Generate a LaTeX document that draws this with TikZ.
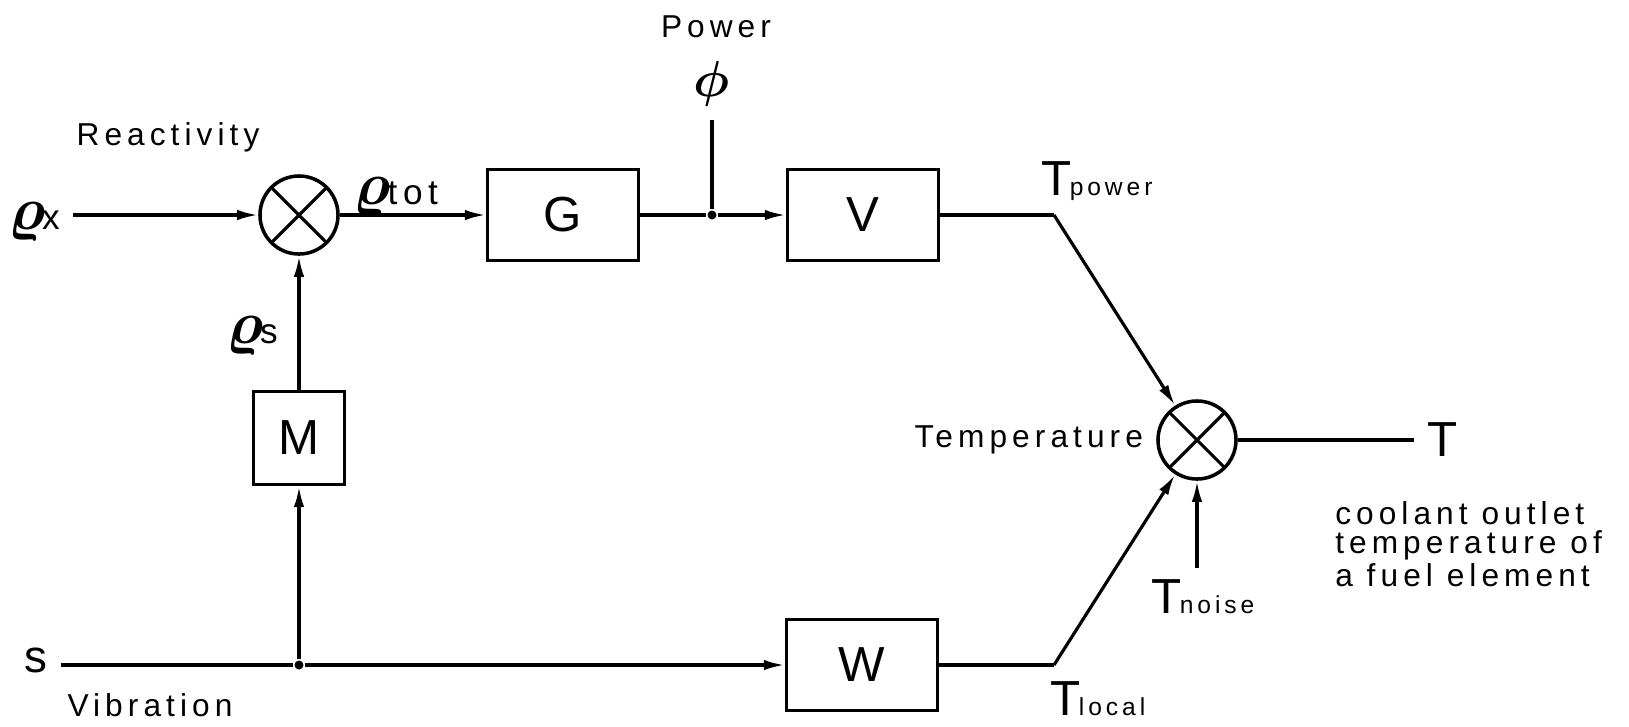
\documentclass[tikz,border=0pt]{standalone}
\usepackage{amsmath}
\usepackage{fontspec}
\setmainfont{Liberation Sans}[LetterSpace=16]
\usetikzlibrary{positioning,arrows.meta,calc}

% T with a small index, rho with an index
\newcommand{\Tsub}[1]{{\fontsize{14}{14}\selectfont T}\kern-0.5pt{\fontsize{7}{7}\selectfont #1}}
\newcommand{\rhosub}[1]{{\fontsize{16}{16}\selectfont$\boldsymbol{\varrho}$}\kern-1pt{\fontsize{10}{10}\selectfont #1}}

\begin{document}
\begin{tikzpicture}[x=0.01cm,y=-0.01cm,>={Latex[length=6pt,width=3pt]},line width=0.9pt,
   every node/.style={font=\fontsize{9}{8.3}\selectfont},
   block/.style={draw,minimum width=1.51cm,minimum height=0.91cm,inner sep=0pt,
     font=\fontsize{14}{14}\selectfont},
   mixer/.style={draw,circle,minimum size=0.78cm,inner sep=0pt,line width=1pt,
     path picture={\draw[line width=0.9pt] (path picture bounding box.north west) -- (path picture bounding box.south east)
       (path picture bounding box.north east) -- (path picture bounding box.south west);}},
   dot/.style={circle,fill,inner sep=0pt,minimum size=0.09cm}]
  \useasboundingbox (0,0) rectangle (1629,726);

  % blocks and mixing points
  \node[mixer] (mix1) at (299,215) {};
  \node[block] (G) at (563,215) {G};
  \node[dot] (jp) at (712,215) {};
  \node[block] (V) at (863,215) {V};
  \node[block,minimum width=0.91cm,minimum height=0.93cm] (M) at (299,438) {M};
  \node[dot] (js) at (299,665) {};
  \node[block] (W) at (862,665) {W};
  \node[mixer] (mix2) at (1197,440) {};
  \coordinate (cp) at (1054,215);
  \coordinate (cl) at (1054,665);
  \coordinate (cn) at (1197,568);

  % labels
  \node (rx) at (34,222) {\rhosub{x}};
  \node (react) at (168,137) {Reactivity};
  \node (rtot) at (396,197) {\rhosub{tot}};
  \node (rs) at (252,336) {\rhosub{s}};
  \node (s) at (36,660) {\fontsize{13}{13}\selectfont s};
  \node (vib) at (150,705) {Vibration};
  \node (pow) at (716,27) {Power};
  \node (phi) at (712,84) {\fontsize{15}{15}\selectfont$\boldsymbol{\phi}$};
  \node (tp) at (1097,181) {\Tsub{power}};
  \node (tl) at (1098,699) {\Tsub{local}};
  \node (tn) at (1203,597) {\Tsub{noise}};
  \node[left=0pt of mix2] (temp) {Temperature};
  \node[anchor=west] (tout) at (1414,440) {\fontsize{14}{14}\selectfont T};
  \node[anchor=north west,align=left] (cool) at (1322,488)
    {coolant outlet\\temperature of\\a fuel element};

  % connections
  \draw[->] (rx.east |- mix1) -- (mix1);
  \draw[->] (mix1) -- (G);
  \draw (G) -- (jp);
  \draw[->] (jp) -- (V);
  \draw (jp) -- (phi);
  \draw (V) -- (cp);
  \draw[->] (cp) -- (mix2);
  \draw (s.east |- js) -- (js);
  \draw[->] (js) -- (W);
  \draw[->] (js) -- (M);
  \draw[->] (M) -- (mix1);
  \draw (W) -- (cl);
  \draw[->] (cl) -- (mix2);
  \draw[->] (cn) -- (mix2);
  \draw (mix2) -- (tout);
\end{tikzpicture}
\end{document}
